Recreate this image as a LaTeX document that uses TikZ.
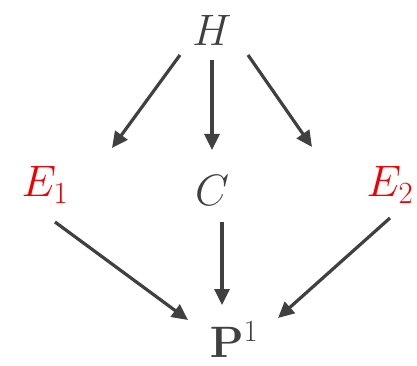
\RequirePackage{fix-cm}
\documentclass[tikz,border=0pt]{standalone}
\usepackage{amsmath}
\usepackage{xcolor}
\usepackage{tikz}
\usetikzlibrary{arrows.meta}
\definecolor{hdGray}{HTML}{404040}
\definecolor{hdRed}{HTML}{F00000}

\begin{document}
\begin{tikzpicture}[
    x=1pt, y=-1pt,
    var/.style={
        inner sep=0pt, text=hdGray,
        font=\fontsize{44}{50}\selectfont
    },
    obs/.style={var, text=hdRed},
    arr/.style={-{Triangle[length=16pt, width=15pt]}, line width=3.2pt, color=hdGray},
]
\useasboundingbox (0,0) rectangle (417,366);

%% nodes
\node[var] (h) at (212, 30) {$H$};
\node[obs] (e1) at (45, 185) {$E_1$};
\node[var] (c) at (212, 190) {$C$};
\node[obs] (e2) at (390, 185) {$E_2$};
\node[var] (p) at (234, 340) {$\mathbf{P}^1$};

%% H -> middle row
\draw[arr] ([shift={(-32,25)}]h.center) -- ([shift={(67,-37)}]e1.center);
\draw[arr] ([shift={(0,30)}]h.center) -- ([shift={(0,-40)}]c.center);
\draw[arr] ([shift={(36,25)}]h.center) -- ([shift={(-78,-38)}]e2.center);

%% middle row -> P
\draw[arr] ([shift={(10,37)}]e1.center) -- ([shift={(-46,-20)}]p.center);
\draw[arr] ([shift={(10,32)}]c.center) -- ([shift={(-12,-35)}]p.center);
\draw[arr] ([shift={(0,33)}]e2.center) -- ([shift={(44,-22)}]p.center);

\end{tikzpicture}
\end{document}
